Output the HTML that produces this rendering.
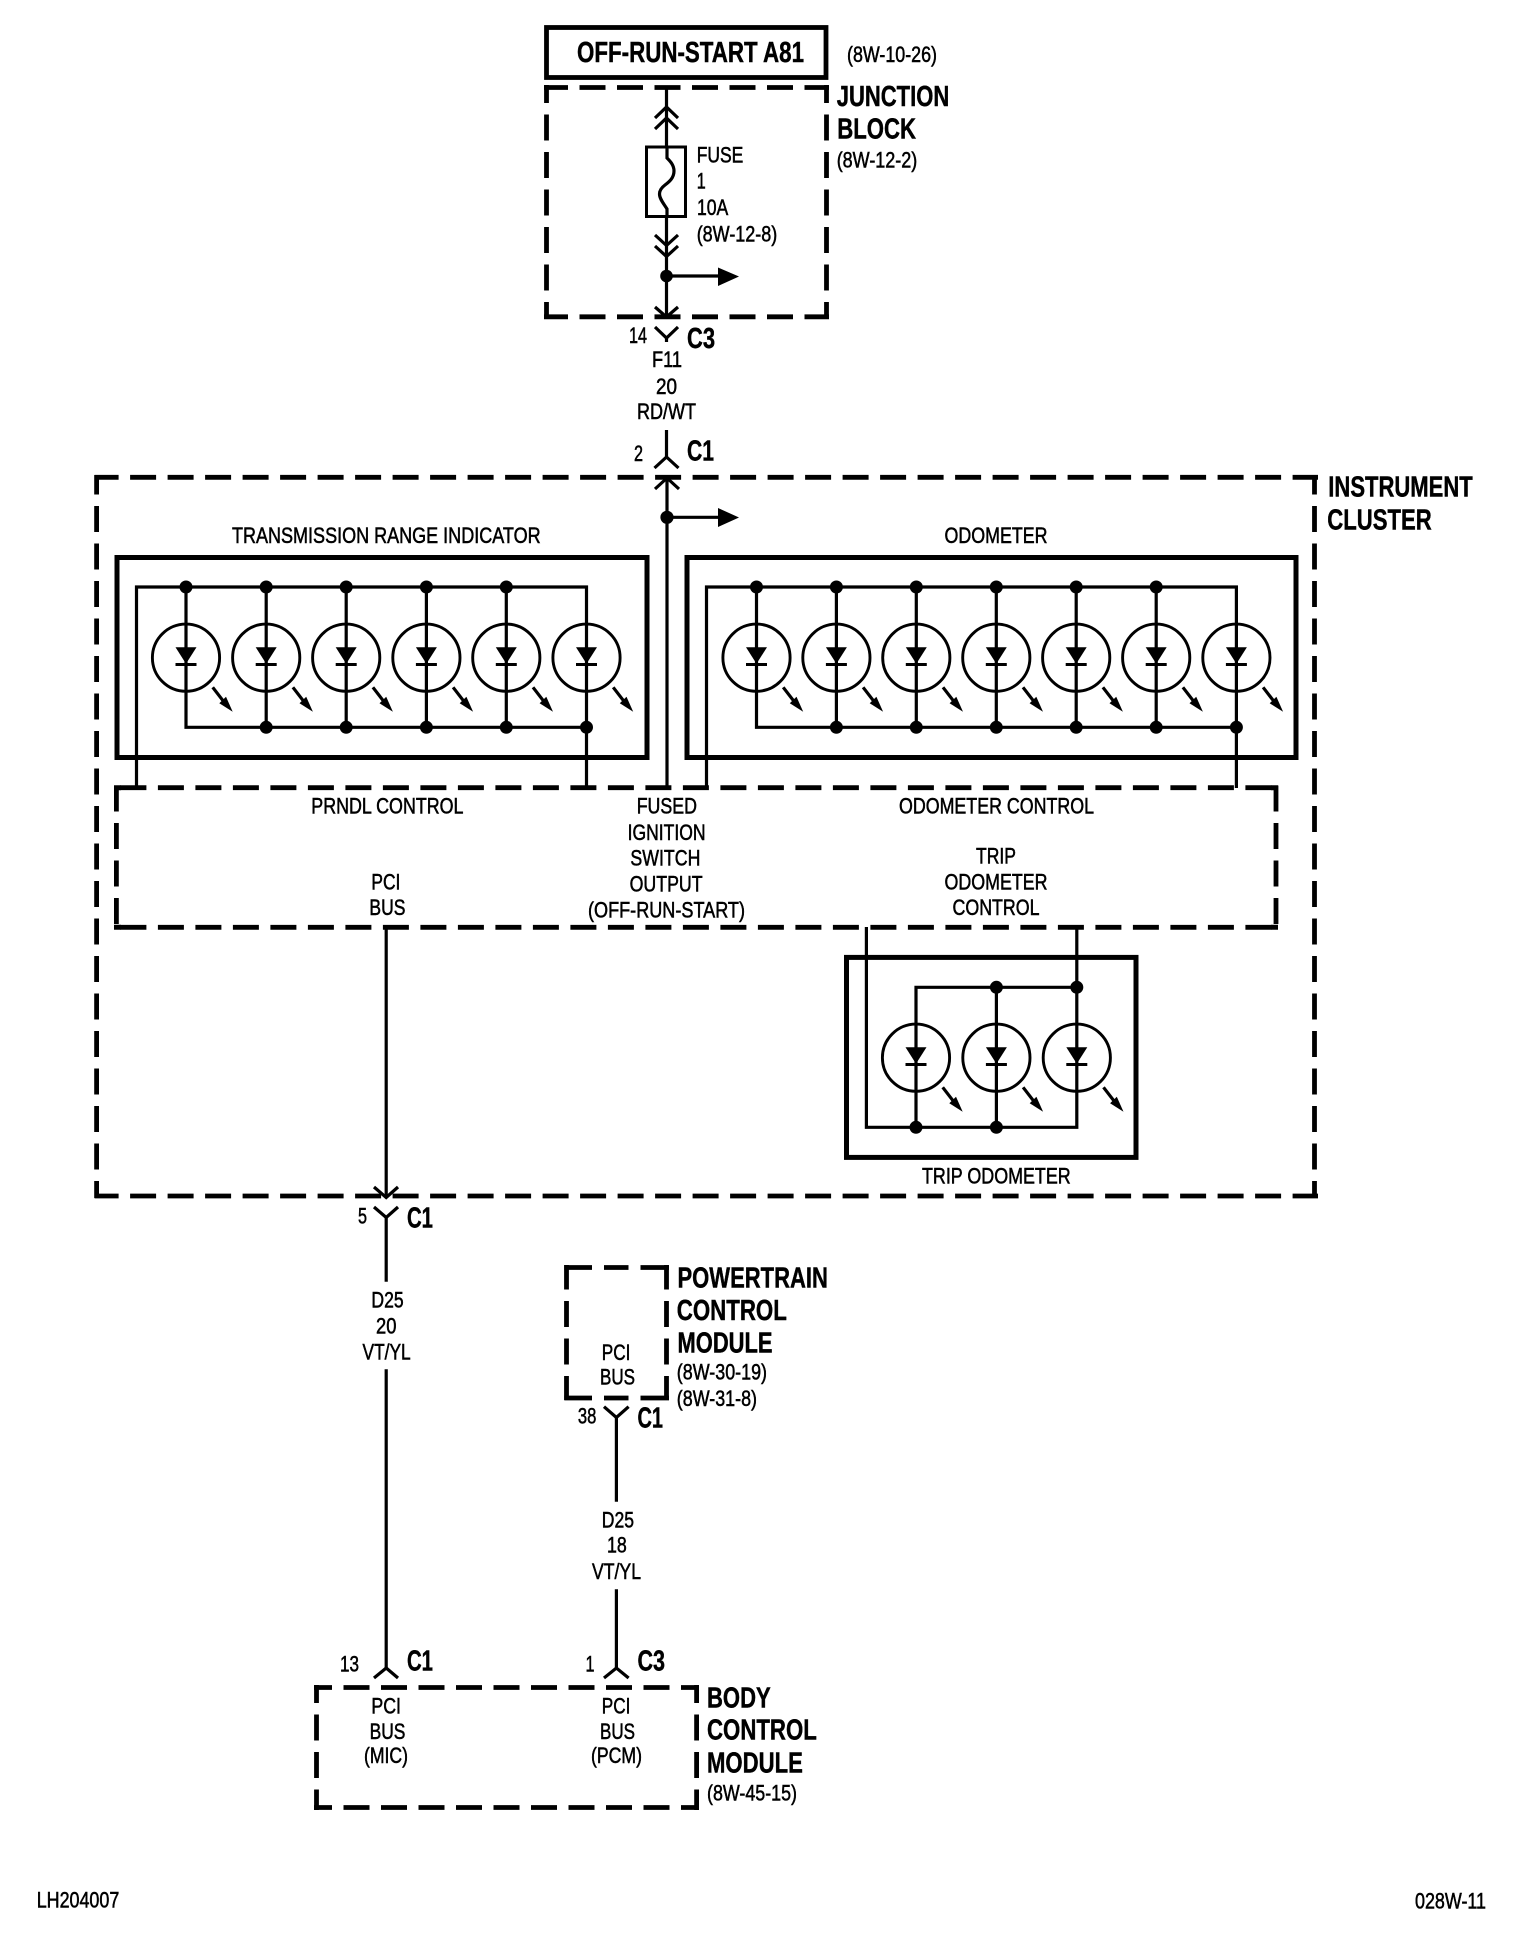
<!DOCTYPE html>
<html><head><meta charset="utf-8"><title>Diagram</title>
<style>
html,body{margin:0;padding:0;background:#fff}
svg{display:block}
text{font-family:"Liberation Sans",sans-serif;fill:#000}
.r{font-size:22.5px;stroke:#000;stroke-width:.55}
.b{font-size:28.5px;font-weight:bold;stroke:#000;stroke-width:.45}
.w{fill:none;stroke:#000;stroke-width:3.2}
.d{fill:none;stroke:#000;stroke-width:4.8;stroke-dasharray:26 11.5}
.s{fill:none;stroke:#000;stroke-width:5}
.c{fill:none;stroke:#000;stroke-width:3.2}
</style></head><body>
<svg xmlns="http://www.w3.org/2000/svg" width="1520" height="1942" viewBox="0 0 1520 1942">
<defs>
<g id="led">
<circle cx="0" cy="0" r="33.6" fill="none" stroke="#000" stroke-width="2.9"/>
<path d="M-10.5 -10.4H10.5L0 6Z" fill="#000"/>
<path d="M-10.5 6.8H10.5" fill="none" stroke="#000" stroke-width="2.9"/>
<path d="M26.7 29.6L37 43" fill="none" stroke="#000" stroke-width="3.2"/>
<path d="M46.7 54L33.3 45.6L40 39Z" fill="#000"/>
</g>
</defs>
<rect width="1520" height="1942" fill="#fff"/>

<!-- top box -->
<rect x="546.5" y="27.5" width="279.5" height="50" fill="none" stroke="#000" stroke-width="4.8"/>
<text class="b" x="577" y="62" textLength="227" lengthAdjust="spacingAndGlyphs">OFF-RUN-START A81</text>
<text class="r" x="847" y="62" textLength="90" lengthAdjust="spacingAndGlyphs">(8W-10-26)</text>

<!-- junction block -->
<path class="d" stroke-dashoffset="2" d="M544 87.5H829"/>
<path class="d" stroke-dashoffset="2" d="M544 316.8H829"/>
<path class="d" stroke-dashoffset="8" d="M546.5 85V319"/>
<path class="d" stroke-dashoffset="8" d="M826.5 85V319"/>
<text class="b" x="836.7" y="106" textLength="112.6" lengthAdjust="spacingAndGlyphs">JUNCTION</text>
<text class="b" x="837.3" y="138.3" textLength="78.7" lengthAdjust="spacingAndGlyphs">BLOCK</text>
<text class="r" x="836.7" y="167.7" textLength="80.6" lengthAdjust="spacingAndGlyphs">(8W-12-2)</text>
<path class="w" d="M666.5 88V146"/>
<path class="c" d="M655 118L666.5 107L678 118M655 129L666.5 118L678 129"/>
<rect x="646.5" y="147" width="39" height="69.5" fill="none" stroke="#000" stroke-width="3"/>
<path class="w" d="M667 146V158C670 161 674 165 674 171C674 178 669 182 665 185C661 188 659.5 191 659.5 194C659.5 199 664 204 667 209V216"/>
<path class="w" d="M666.5 216V316"/>
<path class="c" d="M655 235L666.5 245.5L678 235M655 246L666.5 256.5L678 246"/>
<circle cx="666.5" cy="276" r="6.3" fill="#000"/>
<path class="w" d="M666.5 276H719"/>
<path d="M718 267.5L739 276.5L718 286Z" fill="#000"/>
<path class="c" d="M655 307L666.5 317L678 307"/>
<text class="r" x="696.7" y="162.3" textLength="46.6" lengthAdjust="spacingAndGlyphs">FUSE</text>
<text class="r" x="696.7" y="188.3" textLength="9" lengthAdjust="spacingAndGlyphs">1</text>
<text class="r" x="697" y="215" textLength="31.3" lengthAdjust="spacingAndGlyphs">10A</text>
<text class="r" x="696.7" y="241.7" textLength="80.6" lengthAdjust="spacingAndGlyphs">(8W-12-8)</text>

<!-- C3 / C1 connectors upper -->
<path class="c" d="M655 327L666.5 338L678 327"/>
<path class="w" d="M666.5 337V342"/>
<text class="r" x="629" y="343" textLength="18" lengthAdjust="spacingAndGlyphs">14</text>
<text class="b" x="687" y="348" textLength="28" lengthAdjust="spacingAndGlyphs">C3</text>
<text class="r" x="652" y="367" textLength="30" lengthAdjust="spacingAndGlyphs">F11</text>
<text class="r" x="656" y="394" textLength="21" lengthAdjust="spacingAndGlyphs">20</text>
<text class="r" x="637" y="419" textLength="59" lengthAdjust="spacingAndGlyphs">RD/WT</text>
<path class="w" d="M666.5 430V457"/>
<path class="c" d="M654.5 468L666.5 457L678.5 468"/>
<text class="r" x="634" y="461" textLength="9" lengthAdjust="spacingAndGlyphs">2</text>
<text class="b" x="687" y="460.7" textLength="27" lengthAdjust="spacingAndGlyphs">C1</text>

<!-- instrument cluster -->
<path class="d" stroke-dashoffset="2" d="M94.6 477.3H1318"/>
<path class="d" stroke-dashoffset="2" d="M94.6 1196H1318"/>
<path class="d" stroke-dashoffset="6.5" d="M96.6 475V1198"/>
<path class="d" stroke-dashoffset="6.5" d="M1314.5 475V1198"/>
<text class="b" x="1328.3" y="496.7" textLength="144.4" lengthAdjust="spacingAndGlyphs">INSTRUMENT</text>
<text class="b" x="1327.3" y="529.3" textLength="104.4" lengthAdjust="spacingAndGlyphs">CLUSTER</text>

<!-- feed wire -->
<path class="w" d="M667 478V788"/>
<path class="c" d="M655 489L667 478L679 489"/>
<circle cx="667" cy="517.3" r="6.6" fill="#000"/>
<path class="w" d="M667 517.3H719"/>
<path d="M718 508L739 517.5L718 527Z" fill="#000"/>

<!-- Transmission range indicator -->
<text class="r" x="232" y="543" textLength="308.6" lengthAdjust="spacingAndGlyphs">TRANSMISSION RANGE INDICATOR</text>
<rect x="117" y="557.5" width="530" height="200" class="s"/>
<path class="w" d="M136.5 788V587H586.5V788"/>
<path class="w" d="M186 587V727.3H586.5"/>
<path class="w" d="M266.2 587V727.3M346.2 587V727.3M426.4 587V727.3M506.3 587V727.3"/>
<g fill="#000">
<circle cx="186" cy="587" r="6.5"/><circle cx="266.2" cy="587" r="6.5"/><circle cx="346.2" cy="587" r="6.5"/><circle cx="426.4" cy="587" r="6.5"/><circle cx="506.3" cy="587" r="6.5"/>
<circle cx="266.2" cy="727.3" r="6.5"/><circle cx="346.2" cy="727.3" r="6.5"/><circle cx="426.4" cy="727.3" r="6.5"/><circle cx="506.3" cy="727.3" r="6.5"/><circle cx="586.5" cy="727.3" r="6.5"/>
</g>
<use href="#led" x="186" y="657.7"/><use href="#led" x="266.2" y="657.7"/><use href="#led" x="346.2" y="657.7"/><use href="#led" x="426.4" y="657.7"/><use href="#led" x="506.3" y="657.7"/><use href="#led" x="586.5" y="657.7"/>

<!-- Odometer -->
<text class="r" x="944.5" y="543" textLength="103" lengthAdjust="spacingAndGlyphs">ODOMETER</text>
<rect x="687" y="557.5" width="609" height="200" class="s"/>
<path class="w" d="M706.5 788V587H1236.4V788"/>
<path class="w" d="M756.5 587V727.3H1236.4"/>
<path class="w" d="M836.4 587V727.3M916.3 587V727.3M996.3 587V727.3M1076.2 587V727.3M1156.2 587V727.3"/>
<g fill="#000">
<circle cx="756.5" cy="587" r="6.5"/><circle cx="836.4" cy="587" r="6.5"/><circle cx="916.3" cy="587" r="6.5"/><circle cx="996.3" cy="587" r="6.5"/><circle cx="1076.2" cy="587" r="6.5"/><circle cx="1156.2" cy="587" r="6.5"/>
<circle cx="836.4" cy="727.3" r="6.5"/><circle cx="916.3" cy="727.3" r="6.5"/><circle cx="996.3" cy="727.3" r="6.5"/><circle cx="1076.2" cy="727.3" r="6.5"/><circle cx="1156.2" cy="727.3" r="6.5"/><circle cx="1236.4" cy="727.3" r="6.5"/>
</g>
<use href="#led" x="756.5" y="657.7"/><use href="#led" x="836.4" y="657.7"/><use href="#led" x="916.3" y="657.7"/><use href="#led" x="996.3" y="657.7"/><use href="#led" x="1076.2" y="657.7"/><use href="#led" x="1156.2" y="657.7"/><use href="#led" x="1236.4" y="657.7"/>

<!-- control box -->
<path class="d" stroke-dashoffset="32.7" d="M115.6 787.7H1271.5"/>
<path class="d" stroke-dashoffset="32.7" d="M115.6 927.3H1271.5"/>
<path class="s" stroke-width="4.8" d="M114 787.7H121M1271 787.7H1278M114 927.3H121M1271 927.3H1278"/>
<path class="d" d="M116.4 785.5V929.7"/>
<path class="d" d="M1276 785.5V929.7"/>
<text class="r" x="311.3" y="813.3" textLength="152.2" lengthAdjust="spacingAndGlyphs">PRNDL CONTROL</text>
<text class="r" x="636.7" y="813.3" textLength="60.3" lengthAdjust="spacingAndGlyphs">FUSED</text>
<text class="r" x="627.6" y="840" textLength="78" lengthAdjust="spacingAndGlyphs">IGNITION</text>
<text class="r" x="630.4" y="865.7" textLength="70" lengthAdjust="spacingAndGlyphs">SWITCH</text>
<text class="r" x="629.6" y="891.7" textLength="73" lengthAdjust="spacingAndGlyphs">OUTPUT</text>
<text class="r" x="588" y="917.3" textLength="157" lengthAdjust="spacingAndGlyphs">(OFF-RUN-START)</text>
<text class="r" x="899" y="813.3" textLength="195" lengthAdjust="spacingAndGlyphs">ODOMETER CONTROL</text>
<text class="r" x="976" y="863.3" textLength="40" lengthAdjust="spacingAndGlyphs">TRIP</text>
<text class="r" x="944.5" y="889.3" textLength="103" lengthAdjust="spacingAndGlyphs">ODOMETER</text>
<text class="r" x="952.5" y="915" textLength="87" lengthAdjust="spacingAndGlyphs">CONTROL</text>
<text class="r" x="371.4" y="889.3" textLength="29" lengthAdjust="spacingAndGlyphs">PCI</text>
<text class="r" x="369.4" y="915" textLength="36" lengthAdjust="spacingAndGlyphs">BUS</text>

<!-- Trip odometer -->
<rect x="846.5" y="957.4" width="289.5" height="200" class="s"/>
<path class="w" d="M866.4 927V1127.3H1076.8V927"/>
<path class="w" d="M916 1127.3V987.3H1076.8M996.4 987.3V1127.3"/>
<g fill="#000">
<circle cx="996.4" cy="987.3" r="6.5"/><circle cx="1076.8" cy="987.3" r="6.5"/><circle cx="916" cy="1127.3" r="6.5"/><circle cx="996.4" cy="1127.3" r="6.5"/>
</g>
<use href="#led" x="916" y="1057.7"/><use href="#led" x="996.4" y="1057.7"/><use href="#led" x="1076.8" y="1057.7"/>
<text class="r" x="922" y="1183.3" textLength="148.7" lengthAdjust="spacingAndGlyphs">TRIP ODOMETER</text>

<!-- PCI bus left -->
<path class="w" d="M386.2 927V1197"/>
<path class="c" d="M374 1187L386.2 1197.5L398 1187"/>
<path class="c" d="M374 1207L386.2 1217.5L398 1207"/>
<path class="w" d="M386.2 1217V1281.7M386.2 1369.3V1668"/>
<text class="r" x="358" y="1223.3" textLength="9" lengthAdjust="spacingAndGlyphs">5</text>
<text class="b" x="407" y="1227.7" textLength="26" lengthAdjust="spacingAndGlyphs">C1</text>
<text class="r" x="371.4" y="1307.3" textLength="32.2" lengthAdjust="spacingAndGlyphs">D25</text>
<text class="r" x="376" y="1333.3" textLength="20.4" lengthAdjust="spacingAndGlyphs">20</text>
<text class="r" x="362.5" y="1359.3" textLength="48.2" lengthAdjust="spacingAndGlyphs">VT/YL</text>
<path class="c" d="M374 1678L386.2 1668L398 1678"/>
<text class="r" x="340" y="1671.7" textLength="19" lengthAdjust="spacingAndGlyphs">13</text>
<text class="b" x="407" y="1670.7" textLength="26" lengthAdjust="spacingAndGlyphs">C1</text>

<!-- PCM -->
<path class="d" style="stroke-dasharray:27.7 12 24.5 12 29" d="M564.3 1267.5H669"/>
<path class="d" style="stroke-dasharray:27.7 12 24.5 12 29" d="M564.3 1398H669"/>
<path class="d" stroke-dashoffset="1.5" d="M566.5 1265V1400"/>
<path class="d" stroke-dashoffset="1.5" d="M666.5 1265V1400"/>
<text class="r" x="601.8" y="1360" textLength="28.6" lengthAdjust="spacingAndGlyphs">PCI</text>
<text class="r" x="600" y="1384.3" textLength="35" lengthAdjust="spacingAndGlyphs">BUS</text>
<text class="b" x="677.5" y="1287.3" textLength="150.4" lengthAdjust="spacingAndGlyphs">POWERTRAIN</text>
<text class="b" x="676.8" y="1320" textLength="110" lengthAdjust="spacingAndGlyphs">CONTROL</text>
<text class="b" x="677.5" y="1352.3" textLength="95" lengthAdjust="spacingAndGlyphs">MODULE</text>
<text class="r" x="676.8" y="1379.3" textLength="90.2" lengthAdjust="spacingAndGlyphs">(8W-30-19)</text>
<text class="r" x="676.8" y="1406" textLength="80.2" lengthAdjust="spacingAndGlyphs">(8W-31-8)</text>
<path class="c" d="M604 1406.7L616.4 1417.5L628.6 1406.7"/>
<path class="w" d="M616.4 1417V1501.7M616.4 1589.3V1668"/>
<text class="r" x="577.9" y="1423.3" textLength="18.5" lengthAdjust="spacingAndGlyphs">38</text>
<text class="b" x="637.5" y="1427.3" textLength="25.5" lengthAdjust="spacingAndGlyphs">C1</text>
<text class="r" x="601.8" y="1527.3" textLength="32.2" lengthAdjust="spacingAndGlyphs">D25</text>
<text class="r" x="607" y="1552.7" textLength="19.8" lengthAdjust="spacingAndGlyphs">18</text>
<text class="r" x="592" y="1579" textLength="49" lengthAdjust="spacingAndGlyphs">VT/YL</text>
<path class="c" d="M604 1678L616.4 1668L628.6 1678"/>
<text class="r" x="585.5" y="1671.7" textLength="9" lengthAdjust="spacingAndGlyphs">1</text>
<text class="b" x="637.5" y="1670.7" textLength="27.5" lengthAdjust="spacingAndGlyphs">C3</text>

<!-- BCM -->
<path class="d" stroke-dashoffset="8" d="M314 1687.5H699"/>
<path class="d" stroke-dashoffset="8" d="M314 1807.5H699"/>
<path class="d" stroke-dashoffset="8" d="M316.5 1685V1810"/>
<path class="d" stroke-dashoffset="8" d="M696.6 1685V1810"/>
<text class="r" x="371.4" y="1713.3" textLength="29.6" lengthAdjust="spacingAndGlyphs">PCI</text>
<text class="r" x="369.6" y="1739" textLength="35.8" lengthAdjust="spacingAndGlyphs">BUS</text>
<text class="r" x="364" y="1763" textLength="44" lengthAdjust="spacingAndGlyphs">(MIC)</text>
<text class="r" x="601.8" y="1713.3" textLength="28.6" lengthAdjust="spacingAndGlyphs">PCI</text>
<text class="r" x="600" y="1739" textLength="35" lengthAdjust="spacingAndGlyphs">BUS</text>
<text class="r" x="591" y="1763" textLength="51" lengthAdjust="spacingAndGlyphs">(PCM)</text>
<text class="b" x="707" y="1707.7" textLength="63.7" lengthAdjust="spacingAndGlyphs">BODY</text>
<text class="b" x="707" y="1739.3" textLength="109.8" lengthAdjust="spacingAndGlyphs">CONTROL</text>
<text class="b" x="707" y="1772.3" textLength="95.9" lengthAdjust="spacingAndGlyphs">MODULE</text>
<text class="r" x="707" y="1800.7" textLength="90" lengthAdjust="spacingAndGlyphs">(8W-45-15)</text>

<!-- footer -->
<text class="r" x="36.7" y="1907.3" textLength="82.6" lengthAdjust="spacingAndGlyphs">LH204007</text>
<text class="r" x="1415" y="1908.3" textLength="71" lengthAdjust="spacingAndGlyphs">028W-11</text>
</svg>
</body></html>
